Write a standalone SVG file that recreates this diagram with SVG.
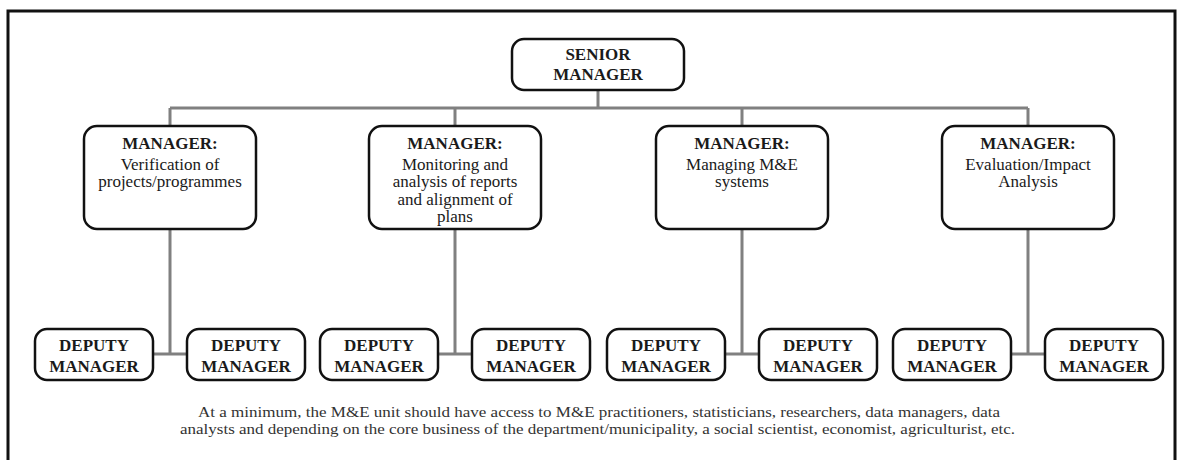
<svg xmlns="http://www.w3.org/2000/svg" width="1180" height="460" viewBox="0 0 1180 460">
  <style>
    .frame { fill: none; stroke: #111; stroke-width: 3; }
    .box { fill: #fff; stroke: #111; stroke-width: 2.5; }
    .link { fill: none; stroke: #808080; stroke-width: 3; }
    .t { font-family: "Liberation Serif", "Times New Roman", serif; font-size: 17px; fill: #1a1a1a; text-anchor: middle; }
    .b { font-weight: bold; }
    .note { font-family: "Liberation Serif", "Times New Roman", serif; font-size: 15px; fill: #333; text-anchor: middle; }
  </style>

  <rect class="frame" x="8" y="11" width="1167" height="462"/>

  <!-- connectors -->
  <g id="connectors">
    <path class="link" d="M598 90 V108 M170 108 H1028 M170 108 V126 M455 108 V126 M742 108 V126 M1028 108 V126"/>
    <path class="link" d="M170 229 V354 M153 354 H187"/>
    <path class="link" d="M455 229 V354 M438 354 H472"/>
    <path class="link" d="M742 229 V354 M725 354 H759"/>
    <path class="link" d="M1028 229 V354 M1011 354 H1045"/>
  </g>

  <!-- top level -->
  <g id="senior-manager">
    <rect class="box" x="512" y="39" width="172" height="51" rx="12"/>
    <text class="t b" x="598" y="60">SENIOR</text>
    <text class="t b" x="598" y="80">MANAGER</text>
  </g>

  <!-- managers -->
  <g id="manager-verification">
    <rect class="box" x="84" y="126" width="172" height="103" rx="13"/>
    <text class="t b" x="170" y="149">MANAGER:</text>
    <text class="t" x="170" y="169.5">Verification of</text>
    <text class="t" x="170" y="187">projects/programmes</text>
  </g>
  <g id="manager-monitoring">
    <rect class="box" x="369" y="126" width="172" height="103" rx="13"/>
    <text class="t b" x="455" y="149">MANAGER:</text>
    <text class="t" x="455" y="169.5">Monitoring and</text>
    <text class="t" x="455" y="187">analysis of reports</text>
    <text class="t" x="455" y="204.5">and alignment of</text>
    <text class="t" x="455" y="222">plans</text>
  </g>
  <g id="manager-systems">
    <rect class="box" x="656" y="126" width="172" height="103" rx="13"/>
    <text class="t b" x="742" y="149">MANAGER:</text>
    <text class="t" x="742" y="169.5">Managing M&amp;E</text>
    <text class="t" x="742" y="187">systems</text>
  </g>
  <g id="manager-evaluation">
    <rect class="box" x="942" y="126" width="172" height="103" rx="13"/>
    <text class="t b" x="1028" y="149">MANAGER:</text>
    <text class="t" x="1028" y="169.5">Evaluation/Impact</text>
    <text class="t" x="1028" y="187">Analysis</text>
  </g>

  <!-- deputies -->
  <g id="deputy-1a">
    <rect class="box" x="35" y="329" width="118" height="51" rx="12"/>
    <text class="t b" x="94" y="351">DEPUTY</text>
    <text class="t b" x="94" y="372">MANAGER</text>
  </g>
  <g id="deputy-1b">
    <rect class="box" x="187" y="329" width="118" height="51" rx="12"/>
    <text class="t b" x="246" y="351">DEPUTY</text>
    <text class="t b" x="246" y="372">MANAGER</text>
  </g>
  <g id="deputy-2a">
    <rect class="box" x="320" y="329" width="118" height="51" rx="12"/>
    <text class="t b" x="379" y="351">DEPUTY</text>
    <text class="t b" x="379" y="372">MANAGER</text>
  </g>
  <g id="deputy-2b">
    <rect class="box" x="472" y="329" width="118" height="51" rx="12"/>
    <text class="t b" x="531" y="351">DEPUTY</text>
    <text class="t b" x="531" y="372">MANAGER</text>
  </g>
  <g id="deputy-3a">
    <rect class="box" x="607" y="329" width="118" height="51" rx="12"/>
    <text class="t b" x="666" y="351">DEPUTY</text>
    <text class="t b" x="666" y="372">MANAGER</text>
  </g>
  <g id="deputy-3b">
    <rect class="box" x="759" y="329" width="118" height="51" rx="12"/>
    <text class="t b" x="818" y="351">DEPUTY</text>
    <text class="t b" x="818" y="372">MANAGER</text>
  </g>
  <g id="deputy-4a">
    <rect class="box" x="893" y="329" width="118" height="51" rx="12"/>
    <text class="t b" x="952" y="351">DEPUTY</text>
    <text class="t b" x="952" y="372">MANAGER</text>
  </g>
  <g id="deputy-4b">
    <rect class="box" x="1045" y="329" width="118" height="51" rx="12"/>
    <text class="t b" x="1104" y="351">DEPUTY</text>
    <text class="t b" x="1104" y="372">MANAGER</text>
  </g>

  <!-- footnote -->
  <text class="note" x="599" y="417" textLength="802" lengthAdjust="spacingAndGlyphs">At a minimum, the M&amp;E unit should have access to M&amp;E practitioners, statisticians, researchers, data managers, data</text>
  <text class="note" x="597.5" y="434" textLength="835" lengthAdjust="spacingAndGlyphs">analysts and depending on the core business of the department/municipality, a social scientist, economist, agriculturist, etc.</text>
</svg>
